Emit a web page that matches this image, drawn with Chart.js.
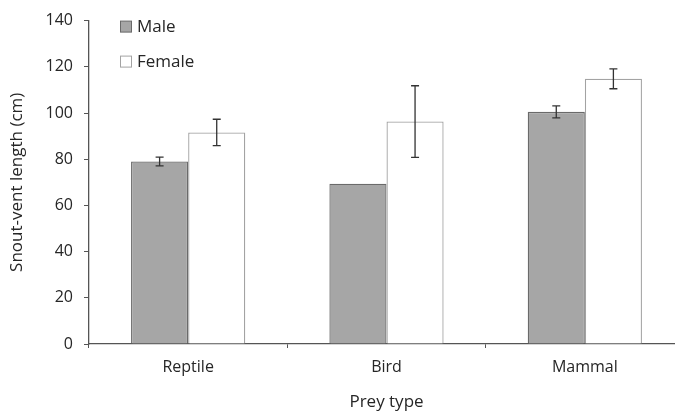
<!DOCTYPE html>
<html>
<head>
<meta charset="utf-8">
<script src="https://cdn.jsdelivr.net/npm/chart.js@4/dist/chart.umd.min.js"></script>
<style>
    html, body { margin: 0; padding: 0; background: #fff; overflow: hidden; }
    #wrap { width: 684px; height: 414px; }
</style>
</head>
<body>
<div id="wrap"><canvas id="preyChart" width="684" height="414"></canvas></div>
<script>
const categories = ["Reptile", "Bird", "Mammal"];
const maleValues = [79, 69.4, 100.5];
const maleErrors = [1.9, 0, 2.6];
const femaleValues = [91.6, 96.3, 114.8];
const femaleErrors = [5.7, 15.5, 4.3];
const yTicks = [0, 20, 40, 60, 80, 100, 120, 140];

const fontFamily = "'Open Sans', 'Liberation Sans', sans-serif";
const textColor = "#262626";
const axisColor = "#555555";

// error bars drawn through the scales
const errorBars = {
    id: "errorBars",
    afterDatasetsDraw(chart) {
        const ctx = chart.ctx;
        const yScale = chart.scales.y;
        const errs = [maleErrors, femaleErrors];

        ctx.save();
        ctx.strokeStyle = "#333333";
        ctx.lineWidth = 1.3;

        chart.data.datasets.forEach((ds, i) => {
            const meta = chart.getDatasetMeta(i);
            meta.data.forEach((bar, j) => {
                const err = errs[i][j];
                if (!err) return;
                const v = ds.data[j];
                const yTop = yScale.getPixelForValue(v + err);
                const yBot = yScale.getPixelForValue(v - err);
                const x = bar.x;
                ctx.beginPath();
                ctx.moveTo(x, yTop);
                ctx.lineTo(x, yBot);
                ctx.moveTo(x - 4, yTop);
                ctx.lineTo(x + 4, yTop);
                ctx.moveTo(x - 4, yBot);
                ctx.lineTo(x + 4, yBot);
                ctx.stroke();
            });
        });
        ctx.restore();
    }
};

// legend inside the plot, stacked vertically
const insideLegend = {
    id: "insideLegend",
    afterDraw(chart) {
        const ctx = chart.ctx;
        const area = chart.chartArea;
        const left = area.left + 31;
        let top = area.top;

        ctx.save();
        ctx.font = "17px " + fontFamily;
        ctx.textBaseline = "middle";
        chart.data.datasets.forEach(ds => {
            ctx.fillStyle = ds.backgroundColor;
            ctx.fillRect(left + 0.5, top + 0.5, 11, 11);
            ctx.strokeStyle = ds.borderColor;
            ctx.lineWidth = 1;
            ctx.strokeRect(left + 0.5, top + 0.5, 11, 11);
            ctx.fillStyle = textColor;
            ctx.fillText(ds.label, left + 17, top + 7);
            top += 35;
        });
        ctx.restore();
    }
};

new Chart(document.getElementById("preyChart"), {
    type: "bar",
    data: {
        labels: categories,
        datasets: [
            {
                label: "Male",
                data: maleValues,
                backgroundColor: "#a6a6a6",
                borderColor: "#6a6a6a",
                borderWidth: 1.3
            },
            {
                label: "Female",
                data: femaleValues,
                backgroundColor: "#ffffff",
                borderColor: "#a3a3a3",
                borderWidth: 1.3
            }
        ]
    },
    options: {
        responsive: false,
        animation: false,
        layout: {
            padding: { top: 12, left: 0, right: 0, bottom: 0 }
        },
        datasets: {
            bar: {
                categoryPercentage: 0.576,
                barPercentage: 1
            }
        },
        plugins: {
            legend: { display: false },
            tooltip: { enabled: false }
        },
        scales: {
            x: {
                afterFit(scale) { scale.height = 70; },
                border: { color: axisColor, width: 1.3 },
                grid: {
                    offset: true,
                    drawOnChartArea: false,
                    drawTicks: true,
                    tickLength: 4,
                    color: axisColor
                },
                ticks: {
                    color: textColor,
                    font: { family: fontFamily, size: 16 },
                    padding: 10
                },
                title: {
                    display: true,
                    text: "Prey type",
                    color: textColor,
                    font: { family: fontFamily, size: 17 },
                    padding: { top: 0, bottom: 2 }
                }
            },
            y: {
                min: 0,
                max: 140,
                afterFit(scale) { scale.width = 89; },
                afterBuildTicks(scale) {
                    scale.ticks = yTicks.map(v => ({ value: v }));
                },
                border: { color: axisColor, width: 1.3 },
                grid: {
                    drawOnChartArea: false,
                    drawTicks: true,
                    tickLength: 5,
                    color: axisColor
                },
                ticks: {
                    color: textColor,
                    font: { family: fontFamily, size: 16 },
                    padding: 11
                },
                title: {
                    display: true,
                    text: "Snout-vent length (cm)",
                    color: textColor,
                    font: { family: fontFamily, size: 17 },
                    padding: { top: 7, bottom: 0 }
                }
            }
        }
    },
    plugins: [errorBars, insideLegend]
});
</script>
</body>
</html>
